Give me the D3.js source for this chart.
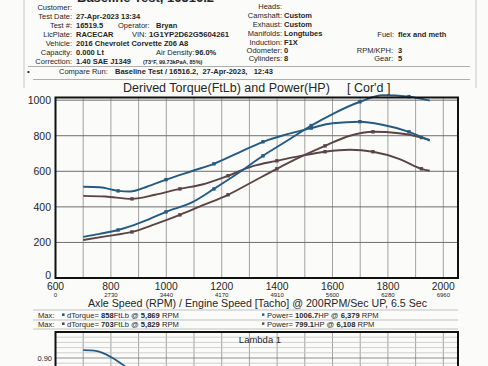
<!DOCTYPE html>
<html><head><meta charset="utf-8">
<script src="https://cdn.jsdelivr.net/npm/d3@7"></script>
<style>
html,body{margin:0;padding:0;background:#fbfbfa;}
svg{display:block;font-family:"Liberation Sans",Arial,sans-serif;}
</style></head><body>
<svg id="c" width="488" height="366"></svg>
<script>
// ---------- data ----------
const xTicks = [600, 800, 1000, 1200, 1400, 1600, 1800, 2000];
const engineTicks = ["0", "2730", "3440", "4170", "4910", "5600", "6280", "6960"];
const yTicks = [0, 200, 400, 600, 800, 1000];

const blueRpm    = [700, 760, 826, 869, 930, 999, 1096, 1172, 1260, 1349, 1430, 1523, 1600, 1699, 1780, 1876, 1951];
const blueTorque = [513, 510, 490, 486, 513, 553, 603, 642, 704, 766, 806, 843, 870, 879, 862, 822, 772];
const bluePower  = [231, 248, 270, 290, 326, 372, 428, 501, 590, 687, 766, 857, 922, 991, 1028, 1020, 997];
const blueMarkRpm = [826, 999, 1172, 1349, 1523, 1699, 1876];

const brownRpm    = [700, 780, 876, 960, 1049, 1130, 1223, 1310, 1399, 1490, 1573, 1663, 1746, 1840, 1921, 1951];
const brownTorque = [462, 458, 445, 468, 501, 526, 575, 628, 659, 688, 710, 721, 710, 670, 614, 603];
const brownPower  = [214, 234, 259, 303, 355, 408, 468, 540, 614, 685, 743, 800, 822, 814, 790, 777];
const brownMarkRpm = [876, 1049, 1223, 1399, 1573, 1746, 1921];

const lambdaRpm  = [700, 740, 770, 800, 830, 860, 890];
const lambdaVals = [0.915, 0.914, 0.910, 0.902, 0.892, 0.880, 0.866];
const lambdaTicks = [0.90];

const leftLabels = ["Customer:", "Test Date:", "Test #:", "LicPlate:", "Vehicle:", "Capacity:", "Correction:"];
const leftValues = ["", "27-Apr-2023 13:34", "16519.5", "RACECAR", "2016 Chevrolet Corvette Z06 A8", "0.000 Lt", "1.40 SAE J1349"];
const rightLabels = ["Heads:", "Camshaft:", "Exhaust:", "Manifolds:", "Induction:", "Odometer:", "Cylinders:"];
const rightValues = ["", "Custom", "Custom", "Longtubes", "F1X", "0", "8"];

const BLUE = "#245b82", BROWN = "#5a4544";

// ---------- setup ----------
const svg = d3.select("#c");
const x = d3.scaleLinear().domain([600, 2053]).range([55.5, 458]);
const y = d3.scaleLinear().domain([0, 1015]).range([278, 97.5]);
const yl = d3.scaleLinear().domain([0.95, 0.80]).range([332, 410]);
const TXT = "#262626";

// faint page borders
svg.append("line").attr("x1", 24).attr("x2", 24).attr("y1", 0).attr("y2", 88).attr("stroke", "#c8c8c8").attr("stroke-width", 1);
svg.append("line").attr("x1", 476).attr("x2", 476).attr("y1", 0).attr("y2", 88).attr("stroke", "#c8c8c8").attr("stroke-width", 1);

// cut-off title at top
svg.append("text").attr("x", 77).attr("y", 2.2).attr("font-size", 13).attr("font-weight", "bold").attr("fill", TXT).text("Baseline Test, 16516.2");

// ---------- header ----------
const hdr = svg.append("g").attr("font-size", 7.5).attr("fill", TXT);
const rowY = [9.6, 18.6, 27.6, 36.6, 45.6, 54.6, 63.6];
leftLabels.forEach((t, i) => {
  hdr.append("text").attr("x", 72).attr("y", rowY[i]).attr("text-anchor", "end").text(t);
  hdr.append("text").attr("x", 76).attr("y", rowY[i]).attr("font-weight", "bold").text(leftValues[i]);
});
hdr.append("text").attr("x", 118).attr("y", rowY[2]).text("Operator:");
hdr.append("text").attr("x", 156).attr("y", rowY[2]).attr("font-weight", "bold").text("Bryan");
hdr.append("text").attr("x", 132).attr("y", rowY[3]).text("VIN:");
hdr.append("text").attr("x", 149).attr("y", rowY[3]).attr("font-weight", "bold").attr("font-size", 7.8).text("1G1YP2D62G5604261");
hdr.append("text").attr("x", 156).attr("y", rowY[5]).text("Air Density:");
hdr.append("text").attr("x", 195).attr("y", rowY[5]).attr("font-weight", "bold").text("96.0%");
hdr.append("text").attr("x", 143).attr("y", rowY[6]).attr("font-size", 5.5).attr("font-weight", "bold").text("(73°F, 99.73kPaA, 85%)");

const rRowY = [8.6, 17.6, 26.6, 35.6, 44.6, 53.3, 61];
rightLabels.forEach((t, i) => {
  hdr.append("text").attr("x", 282).attr("y", rRowY[i]).attr("text-anchor", "end").text(t);
  hdr.append("text").attr("x", 284).attr("y", rRowY[i]).attr("font-weight", "bold").text(rightValues[i]);
});
hdr.append("text").attr("x", 394).attr("y", 36.6).attr("text-anchor", "end").text("Fuel:");
hdr.append("text").attr("x", 398).attr("y", 36.6).attr("font-weight", "bold").text("flex and meth");
hdr.append("text").attr("x", 393).attr("y", 52.6).attr("text-anchor", "end").text("RPM/KPH:");
hdr.append("text").attr("x", 398).attr("y", 52.6).attr("font-weight", "bold").text("3");
hdr.append("text").attr("x", 393).attr("y", 61).attr("text-anchor", "end").text("Gear:");
hdr.append("text").attr("x", 398).attr("y", 61).attr("font-weight", "bold").text("5");

svg.append("line").attr("x1", 28).attr("x2", 470).attr("y1", 66.5).attr("y2", 66.5).attr("stroke", "#9a9a9a").attr("stroke-width", 0.8);
svg.append("line").attr("x1", 33).attr("x2", 470).attr("y1", 79.5).attr("y2", 79.5).attr("stroke", "#9a9a9a").attr("stroke-width", 0.8);
hdr.append("text").attr("x", 27).attr("y", 73.8).attr("font-size", 8).text("•");
hdr.append("text").attr("x", 59).attr("y", 73.8).text("Compare Run:");
hdr.append("text").attr("x", 115).attr("y", 73.8).attr("font-weight", "bold").attr("xml:space", "preserve").text("Baseline Test / 16516.2,  27-Apr-2023,   12:43");

// ---------- main chart ----------
svg.append("text").attr("x", 123).attr("y", 92).attr("font-size", 12.5).attr("fill", TXT).text("Derived Torque(FtLb) and Power(HP)");
svg.append("text").attr("x", 347).attr("y", 92).attr("font-size", 12.5).attr("fill", TXT).text("[ Cor'd ]");

const grid = svg.append("g");
grid.selectAll("line.v").data(d3.range(700, 2001, 100)).join("line")
  .attr("x1", d => x(d)).attr("x2", d => x(d)).attr("y1", y.range()[1]).attr("y2", y.range()[0])
  .attr("stroke", "#8c8c8c").attr("stroke-width", 0.8);
grid.selectAll("line.h").data(yTicks.filter(d => d > 0)).join("line")
  .attr("x1", x.range()[0]).attr("x2", x.range()[1]).attr("y1", d => y(d)).attr("y2", d => y(d))
  .attr("stroke", "#6e6e6e").attr("stroke-width", 1);

// y labels
svg.append("g").selectAll("text").data(yTicks).join("text")
  .attr("x", 51).attr("y", d => y(d) - (d === 0 ? 2.5 : 0)).attr("dy", "0.36em").attr("text-anchor", "end")
  .attr("font-size", 10.5).attr("fill", TXT).text(d => d);
// x labels
svg.append("g").selectAll("text").data(xTicks).join("text")
  .attr("x", d => x(d)).attr("y", 290.3).attr("text-anchor", "middle")
  .attr("font-size", 10.3).attr("fill", TXT).text(d => d);
svg.append("g").selectAll("text").data(xTicks).join("text")
  .attr("x", d => x(d)).attr("y", 297.2).attr("text-anchor", "middle")
  .attr("font-size", 6).attr("fill", TXT).text((d, i) => engineTicks[i]);
svg.append("text").attr("x", 88).attr("y", 307).attr("font-size", 10.6).attr("fill", TXT)
  .attr("textLength", 339).attr("lengthAdjust", "spacingAndGlyphs")
  .text("Axle Speed (RPM) / Engine Speed [Tacho] @ 200RPM/Sec UP, 6.5 Sec");

// curves
const line = (rpm) => d3.line().x((d, i) => x(rpm[i])).y(d => y(d)).curve(d3.curveMonotoneX);
const series = [
  {rpm: brownRpm, vals: brownTorque, marks: brownMarkRpm, c: BROWN},
  {rpm: brownRpm, vals: brownPower, marks: brownMarkRpm, c: BROWN},
  {rpm: blueRpm, vals: blueTorque, marks: blueMarkRpm, c: BLUE},
  {rpm: blueRpm, vals: bluePower, marks: blueMarkRpm, c: BLUE}
];
const cg = svg.append("g");
series.forEach(s => {
  cg.append("path").attr("d", line(s.rpm)(s.vals)).attr("fill", "none")
    .attr("stroke", s.c).attr("stroke-width", 1.9).attr("stroke-linejoin", "round");
  const pts = s.rpm.map((r, i) => [r, s.vals[i]]).filter(p => s.marks.includes(p[0]));
  cg.selectAll(null).data(pts).join("rect")
    .attr("x", d => x(d[0]) - 1.7).attr("y", d => y(d[1]) - 1.7).attr("width", 3.4).attr("height", 3.4)
    .attr("fill", s.c);
});

// frame
svg.append("rect").attr("x", x.range()[0]).attr("y", y.range()[1])
  .attr("width", x.range()[1] - x.range()[0]).attr("height", y.range()[0] - y.range()[1])
  .attr("fill", "none").attr("stroke", "#111").attr("stroke-width", 2);

// ---------- legend ----------
const lg = svg.append("g").attr("font-size", 7.6).attr("fill", TXT);
[310, 320, 329].forEach(v => lg.append("line").attr("x1", 33).attr("x2", 458).attr("y1", v).attr("y2", v).attr("stroke", "#b4b4b4").attr("stroke-width", 0.8));
const legRows = [
  {y: 317.6, c: BLUE, tq: "858", tr: "5,869", pw: "1006.7", pr: "6,379"},
  {y: 326.6, c: BROWN, tq: "703", tr: "5,829", pw: "799.1", pr: "6,108"}
];
legRows.forEach(r => {
  lg.append("text").attr("x", 38).attr("y", r.y).text("Max:");
  lg.append("rect").attr("x", 62).attr("y", r.y - 4.2).attr("width", 2.6).attr("height", 2.6).attr("fill", r.c);
  const t = lg.append("text").attr("x", 67).attr("y", r.y);
  t.append("tspan").text("dTorque= ");
  t.append("tspan").attr("font-weight", "bold").text(r.tq);
  t.append("tspan").text("FtLb @ ");
  t.append("tspan").attr("font-weight", "bold").text(r.tr);
  t.append("tspan").text(" RPM");
  lg.append("rect").attr("x", 262).attr("y", r.y - 4.2).attr("width", 2.4).attr("height", 2.4).attr("fill", r.c);
  const p = lg.append("text").attr("x", 267).attr("y", r.y);
  p.append("tspan").text("Power= ");
  p.append("tspan").attr("font-weight", "bold").text(r.pw);
  p.append("tspan").text("HP @ ");
  p.append("tspan").attr("font-weight", "bold").text(r.pr);
  p.append("tspan").text(" RPM");
});

// ---------- lambda chart ----------
const lgrid = svg.append("g");
lgrid.selectAll("line.v").data(d3.range(700, 2001, 100)).join("line")
  .attr("x1", d => x(d)).attr("x2", d => x(d)).attr("y1", 332).attr("y2", 366)
  .attr("stroke", "#8c8c8c").attr("stroke-width", 0.8);
lgrid.selectAll("line.h").data(d3.range(0.94, 0.85, -0.01)).join("line")
  .attr("x1", x.range()[0]).attr("x2", x.range()[1]).attr("y1", d => yl(d)).attr("y2", d => yl(d))
  .attr("stroke", d => Math.abs(d - 0.90) < 0.001 ? "#777" : "#c4c4c4").attr("stroke-width", 0.8);
svg.append("text").attr("x", 260).attr("y", 343).attr("text-anchor", "middle").attr("font-size", 9.5).attr("fill", TXT).text("Lambda 1");
svg.append("g").selectAll("text").data(lambdaTicks).join("text")
  .attr("x", 52).attr("y", d => yl(d)).attr("dy", "0.35em").attr("text-anchor", "end")
  .attr("font-size", 7.5).attr("fill", TXT).text(d => d.toFixed(2));
svg.append("path").attr("d", d3.line().x((d, i) => x(lambdaRpm[i])).y(d => yl(d)).curve(d3.curveMonotoneX)(lambdaVals))
  .attr("fill", "none").attr("stroke", BLUE).attr("stroke-width", 1.8);
svg.append("path").attr("d", `M${x.range()[0]},370V332H${x.range()[1]}V370`)
  .attr("fill", "none").attr("stroke", "#111").attr("stroke-width", 2);
</script>
</body></html>
